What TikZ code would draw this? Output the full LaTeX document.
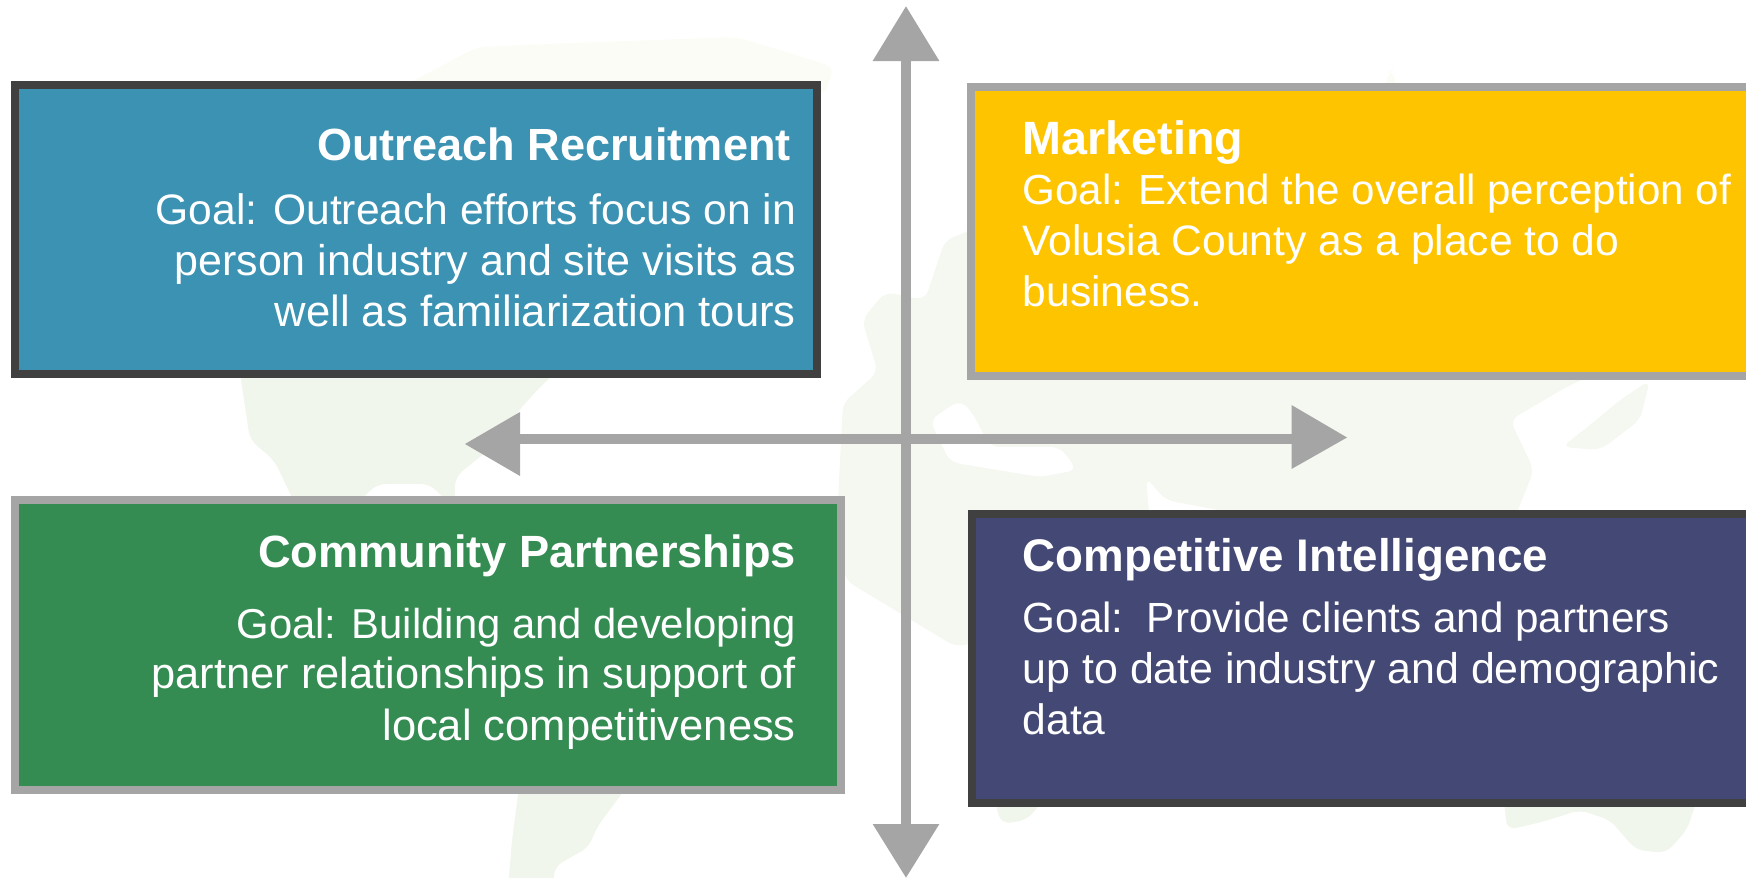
\documentclass[tikz,border=0pt]{standalone}
\usepackage{fontspec}
\setmainfont{Liberation Sans}
\usetikzlibrary{arrows.meta,calc}
\definecolor{frameDark}{HTML}{404040}
\definecolor{frameGray}{HTML}{A5A5A5}
\definecolor{fillBlue}{HTML}{3B92B2}
\definecolor{fillGold}{HTML}{FFC400}
\definecolor{fillGreen}{HTML}{348C52}
\definecolor{fillNavy}{HTML}{444874}
\definecolor{mapLow}{HTML}{F1F6EC}
\definecolor{mapMid}{HTML}{F5F8F1}
\definecolor{mapHigh}{HTML}{FCFCF7}
\tikzset{
  quadbox/.style={draw,line width=8pt,rectangle,inner sep=0pt,outer sep=0pt,anchor=north west},
  land/.style={rounded corners=9pt},
  titleR/.style={anchor=base east,inner sep=0pt,text=white,font=\fontsize{#1}{51}\selectfont\bfseries},
  bodyR/.style={anchor=base east,inner sep=0pt,text=white,font=\fontsize{#1}{51}\selectfont},
  titleL/.style={anchor=base west,inner sep=0pt,text=white,font=\fontsize{#1}{51}\selectfont\bfseries},
  bodyL/.style={anchor=base west,inner sep=0pt,text=white,font=\fontsize{#1}{51}\selectfont},
  axis/.style={draw=frameGray,line width=10pt},
  head/.style={fill=frameGray}
}
\begin{document}
\begin{tikzpicture}[x=1pt,y=-1pt]
\useasboundingbox (0,0) rectangle (1746,878);
\clip (0,0) rectangle (1746,878);
% faint world map
\fill[mapHigh,land] (396,90) -- (477,47) -- (570,43) -- (736,37) -- (780,50) -- (834,67) -- (825,95) -- cycle;
\fill[mapHigh,land] (1385,90) -- (1388,72) -- (1393,69) -- (1397,90) -- cycle;
\fill[mapLow,land] (238,360) -- (570,360) -- (544,383) -- (519,410) -- (500,440) -- (480,457) -- (455,477) -- (455,510) -- (430,484) -- (377,484) -- (350,510) -- (298,510) -- (274,460) -- (250,440) -- cycle;
\fill[mapLow,land] (520,780) -- (632,780) -- (597,827) -- (589,847) -- (554,867) -- (554,900) -- (507,900) -- (512,840) -- cycle;
\fill[mapMid,land] (967,232) -- (945,240) -- (925,300) -- (885,292) -- (862,320) -- (878,372) -- (843,403) -- (838,500) -- (845,580) -- (956,647) -- (985,640) -- (985,220) -- cycle;
\fill[mapMid,land] (960,360) -- (1630,360) -- (1570,385) -- (1510,420) -- (1534,470) -- (1510,530) -- (975,530) -- cycle;
\fill[white,land] (960,400) -- (972,412) -- (990,447) -- (1060,447) -- (1077,470) -- (1040,477) -- (950,462) -- (930,420) -- cycle;
\fill[white,land] (1146,477) -- (1165,500) -- (1245,515) -- (1150,525) -- cycle;
\fill[mapLow,land] (992,790) -- (1052,790) -- (1027,820) -- (1001,824) -- cycle;
\fill[mapLow,land] (1503,790) -- (1507,830) -- (1542,822) -- (1580,810) -- (1610,820) -- (1636,850) -- (1666,853) -- (1687,830) -- (1700,790) -- cycle;
\fill[mapMid,land] (1562,447) -- (1590,425) -- (1620,400) -- (1650,380) -- (1640,420) -- (1600,450) -- cycle;
% boxes
\node[quadbox,draw=frameDark,fill=fillBlue,minimum width=802pt,minimum height=289pt] (outreach) at (14.5,85) {};
\node[quadbox,draw=frameGray,fill=fillGold,minimum width=800pt,minimum height=289pt] (marketing) at (971,87) {};
\node[quadbox,draw=frameGray,fill=fillGreen,minimum width=826pt,minimum height=290pt] (community) at (14.5,500) {};
\node[quadbox,draw=frameDark,fill=fillNavy,minimum width=800pt,minimum height=289pt] (intel) at (971.5,514) {};
% texts
\node[titleR=45.1] (t1) at (791,160) {Outreach Recruitment};
\node[bodyR=42.6] (t1a) at (796,224) {Goal: Outreach efforts focus on in};
\node[bodyR=43] (t1b) at (796,275) {person industry and site visits as};
\node[bodyR=43.6] (t1c) at (796,326) {well as familiarization tours};
\node[titleL=46.7] (t2) at (1022.5,154) {Marketing};
\node[bodyL=42.1] (t2a) at (1022.5,204) {Goal: Extend the overall perception of};
\node[bodyL=42.6] (t2b) at (1022.5,255) {Volusia County as a place to do};
\node[bodyL=42.6] (t2c) at (1022.5,306.5) {business.};
\node[titleR=45.2] (t3) at (796,567) {Community Partnerships};
\node[bodyR=41.8] (t3a) at (796,638) {Goal: Building and developing};
\node[bodyR=43.4] (t3b) at (796,688.5) {partner relationships in support of};
\node[bodyR=43.5] (t3c) at (796,740) {local competitiveness};
\node[titleL=45.7] (t4) at (1022.5,571) {Competitive Intelligence};
\node[bodyL=42.2] (t4a) at (1022.5,632) {Goal:\ \ Provide clients and partners};
\node[bodyL=42.9] (t4b) at (1022.5,683) {up to date industry and demographic};
\node[bodyL=42.6] (t4c) at (1022.5,734) {data};
% axes
\coordinate (vtop) at (906,6);
\coordinate (vbot) at (906,878);
\coordinate (hleft) at (520,439);
\coordinate (hright) at (1292,439);
\draw[axis,{Triangle[length=55pt,width=64pt]}-{Triangle[length=54pt,width=64pt]}] (vtop) -- (vbot);
\draw[axis] (hleft) -- (hright);
\fill[head] (465,444) -- (520,412) -- (520,476) -- cycle;
\fill[head] (1347,437.5) -- (1291.5,405) -- (1291.5,469) -- cycle;
\end{tikzpicture}
\end{document}
